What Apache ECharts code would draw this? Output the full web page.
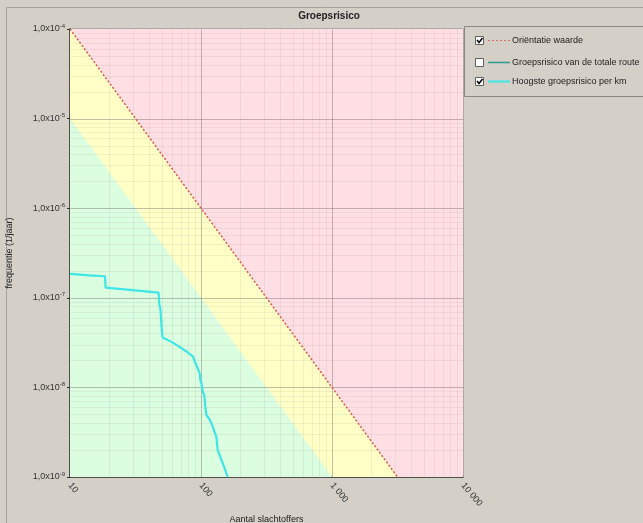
<!DOCTYPE html>
<html>
<head>
<meta charset="utf-8">
<script src="https://cdn.jsdelivr.net/npm/echarts@6/dist/echarts.min.js"></script>
<style>
  html, body { margin: 0; padding: 0; background: #d4d0c8; }
  #chart { width: 643px; height: 523px; }
</style>
</head>
<body>
<div id="chart"></div>
<script>
// assen
var xTicks = [10, 100, 1000, 10000];
var xTickLabels = ['10', '100', '1 000', '10 000'];
var yTicks = [1e-9, 1e-8, 1e-7, 1e-6, 1e-5, 1e-4];

// rasterlijnen (tussenwaarden per decade)
var minorFactors = [2, 3, 4, 5, 6, 7, 8, 9];
var xDecades = [10, 100, 1000];
var yDecades = [1e-9, 1e-8, 1e-7, 1e-6, 1e-5];

// zones: rood boven de oriëntatiewaarde, geel tot factor 10 eronder, groen daaronder
var zoneRood = [[10, 1e-4], [10000, 1e-4], [10000, 1e-9], [3162.3, 1e-9]];
var zoneGeel = [[10, 1e-4], [3162.3, 1e-9], [1000, 1e-9], [10, 1e-5]];
var zoneGroen = [[10, 1e-5], [1000, 1e-9], [10, 1e-9]];

// oriëntatiewaarde
var orientatieWaarde = [[10, 1e-4], [3162.3, 1e-9]];

// hoogste groepsrisico per km
var hoogsteGR = [
  [10, 1.85e-7], [14, 1.78e-7], [18.5, 1.74e-7], [18.7, 1.3e-7], [30, 1.22e-7],
  [47.5, 1.14e-7], [48, 8.5e-8], [49, 7.5e-8], [50, 7.3e-8], [50.5, 4e-8],
  [51, 3.6e-8], [60, 3.2e-8], [68, 2.85e-8], [78, 2.5e-8], [87, 2.2e-8],
  [89, 2.0e-8], [92, 1.78e-8], [95, 1.6e-8], [97.5, 1.44e-8], [99, 1.2e-8],
  [101, 1.1e-8], [103, 9e-9], [106, 8.2e-9], [108, 6e-9], [110, 4.9e-9],
  [115, 4.5e-9], [120, 4e-9], [125, 3.4e-9], [131, 2.8e-9], [134, 2e-9],
  [140, 1.7e-9], [150, 1.3e-9], [160, 1e-9]
];

var minorX = [], minorY = [];
xDecades.forEach(function (d) { minorFactors.forEach(function (f) { minorX.push(f * d); }); });
yDecades.forEach(function (d) { minorFactors.forEach(function (f) { minorY.push(f * d); }); });
var majorX = xTicks.slice(1, -1);
var majorY = yTicks.slice(1, -1);

function zoneSeries(zone, color) {
  return {
    type: 'custom',
    silent: true,
    z: 1,
    data: [zone[0]],
    renderItem: function (params, api) {
      return {
        type: 'polygon',
        shape: { points: zone.map(function (p) { return api.coord(p); }) },
        style: { fill: color }
      };
    }
  };
}

function rasterSeries(values, vertical, color) {
  return {
    type: 'custom',
    silent: true,
    z: 2,
    data: values.map(function (v) { return vertical ? [v, 1e-9] : [10, v]; }),
    renderItem: function (params, api) {
      var v = api.value(vertical ? 0 : 1);
      var a = vertical ? api.coord([v, 1e-9]) : api.coord([10, v]);
      var b = vertical ? api.coord([v, 1e-4]) : api.coord([10000, v]);
      return {
        type: 'line',
        shape: { x1: Math.round(a[0]) + 0.5, y1: Math.round(a[1]) + 0.5, x2: Math.round(b[0]) + 0.5, y2: Math.round(b[1]) + 0.5 },
        style: { stroke: color, lineWidth: 1 }
      };
    }
  };
}

var font = 'Liberation Sans';

var option = {
  backgroundColor: '#d4d0c8',
  animation: false,
  grid: {
    left: 70, top: 29, right: 180, bottom: 46,
    outerBoundsMode: 'none',
    containLabel: false,
    show: true,
    backgroundColor: '#dbfde0',
    borderColor: '#8a8282',
    borderWidth: 1
  },
  xAxis: {
    type: 'log',
    logBase: 10,
    min: 10,
    max: 10000,
    name: 'Aantal slachtoffers',
    nameLocation: 'middle',
    nameGap: 38,
    nameTextStyle: { fontFamily: font, fontSize: 9, color: '#222' },
    axisLine: { show: true, lineStyle: { color: '#303030', width: 1.5 } },
    axisTick: { show: false },
    splitLine: { show: false },
    axisLabel: {
      rotate: -50,
      margin: 7,
      fontFamily: font,
      fontSize: 9,
      color: '#333',
      formatter: function (v) {
        var i = xTicks.indexOf(Math.round(v));
        return i >= 0 ? xTickLabels[i] : '';
      }
    }
  },
  yAxis: {
    type: 'log',
    logBase: 10,
    min: 1e-9,
    max: 1e-4,
    name: 'frequentie (1/jaar)',
    nameLocation: 'middle',
    nameGap: 56,
    nameTextStyle: { fontFamily: font, fontSize: 9, color: '#222' },
    axisLine: { show: true, lineStyle: { color: '#303030', width: 1.5 } },
    axisTick: { show: true, length: 3, lineStyle: { color: '#303030' } },
    splitLine: { show: false },
    axisLabel: {
      margin: 5,
      fontFamily: font,
      fontSize: 9,
      color: '#333',
      formatter: function (v) {
        var e = Math.round(Math.log10(v));
        return '1,0x10{sup|' + e + '}';
      },
      rich: {
        sup: { fontFamily: font, fontSize: 6, color: '#333', verticalAlign: 'top', padding: [0, 0, 6, 0] }
      }
    }
  },
  series: [
    zoneSeries(zoneGroen, '#dbfde0'),
    zoneSeries(zoneGeel, '#ffffc6'),
    zoneSeries(zoneRood, '#ffdfe3'),
    rasterSeries(minorX, true, 'rgba(150,140,140,0.13)'),
    rasterSeries(minorY, false, 'rgba(150,140,140,0.13)'),
    rasterSeries(majorX, true, 'rgba(120,110,110,0.45)'),
    rasterSeries(majorY, false, 'rgba(120,110,110,0.45)'),
    {
      name: 'Oriëntatie waarde',
      type: 'line',
      z: 5,
      data: orientatieWaarde,
      showSymbol: false,
      lineStyle: { color: '#d45a4a', width: 1.5, type: [2, 2] }
    },
    {
      name: 'Hoogste groepsrisico per km',
      type: 'line',
      z: 6,
      data: hoogsteGR,
      showSymbol: false,
      lineStyle: { color: '#3ee6e6', width: 2.2 }
    }
  ],
  graphic: [
    { type: 'rect', shape: { x: 6.5, y: 7.5, width: 700, height: 600 }, style: { fill: null, stroke: '#a6a29a', lineWidth: 1 } },
    { type: 'text', x: 329, y: 16, style: { text: 'Groepsrisico', font: 'bold 10px ' + font, fill: '#222', align: 'center', verticalAlign: 'middle' } },
    { type: 'rect', shape: { x: 464.5, y: 26.5, width: 200, height: 70 }, style: { fill: '#d4d0c8', stroke: '#8c8880', lineWidth: 1 } },
    { type: 'rect', shape: { x: 475.5, y: 36.5, width: 8, height: 8 }, style: { fill: '#fff', stroke: '#606060', lineWidth: 1 } },
    { type: 'polyline', shape: { points: [[477, 40], [479, 42.5], [482.5, 38]] }, style: { stroke: '#000', lineWidth: 1.5, fill: null } },
    { type: 'rect', shape: { x: 475.5, y: 58.5, width: 8, height: 8 }, style: { fill: '#fff', stroke: '#606060', lineWidth: 1 } },
    { type: 'rect', shape: { x: 475.5, y: 77.5, width: 8, height: 8 }, style: { fill: '#fff', stroke: '#606060', lineWidth: 1 } },
    { type: 'polyline', shape: { points: [[477, 81], [479, 83.5], [482.5, 79]] }, style: { stroke: '#000', lineWidth: 1.5, fill: null } },
    { type: 'line', shape: { x1: 488, y1: 40.5, x2: 510, y2: 40.5 }, style: { stroke: '#e07070', lineWidth: 1, lineDash: [2, 2] } },
    { type: 'line', shape: { x1: 488, y1: 62.5, x2: 510, y2: 62.5 }, style: { stroke: '#2e9a8c', lineWidth: 1.5 } },
    { type: 'line', shape: { x1: 488, y1: 81.5, x2: 510, y2: 81.5 }, style: { stroke: '#3ee6e6', lineWidth: 2 } },
    { type: 'text', x: 512, y: 40.5, style: { text: 'Oriëntatie waarde', font: '9px ' + font, fill: '#222', verticalAlign: 'middle' } },
    { type: 'text', x: 512, y: 62.5, style: { text: 'Groepsrisico van de totale route', font: '9px ' + font, fill: '#222', verticalAlign: 'middle' } },
    { type: 'text', x: 512, y: 81.5, style: { text: 'Hoogste groepsrisico per km', font: '9px ' + font, fill: '#222', verticalAlign: 'middle' } }
  ]
};

var chart = echarts.init(document.getElementById('chart'));
chart.setOption(option);
</script>
</body>
</html>
